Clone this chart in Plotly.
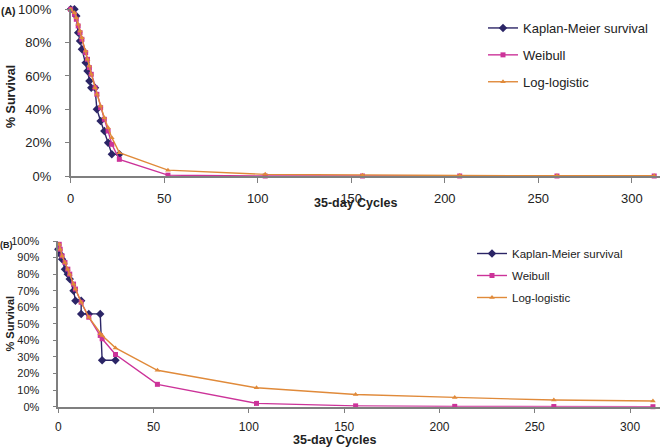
import plotly.graph_objects as go

W, H = 661, 448
FONT = "Liberation Sans, Arial, sans-serif"

# ---------------- Panel A data ----------------
a_km_t = [0, 2, 3, 4, 5, 6, 8, 9, 10, 11, 13, 14, 16, 18, 20, 22, 26]
a_km_s = [100, 100, 96, 86, 81, 76, 68, 63, 57, 53, 53, 40, 33, 27, 20, 13, 13]

a_fit_t = [0, 2, 3, 4, 5, 6, 8, 9, 10, 11, 13, 14, 16, 18, 20, 22, 26, 52, 104, 156, 208, 260, 312]
a_wb_s = [100, 97, 94, 90, 86, 82, 74, 70, 65, 61, 53, 49, 41, 34, 27, 19, 10, 0.5, 0, 0, 0, 0, 0]
a_ll_s = [100, 98, 95, 91, 87, 83, 75, 70, 66, 61, 53, 49, 42, 35, 29, 23, 14, 3.5, 1, 0.5, 0.3, 0.2, 0.2]

# ---------------- Panel B data ----------------
b_km_t = [0, 1, 2, 3.5, 5, 6, 8, 9, 12, 12, 16, 22, 23, 30]
b_km_s = [95, 92, 89, 83, 80, 77, 70, 64, 64, 56, 56, 56, 28, 28]

b_fit_t = [0.5, 1, 2, 3.5, 5, 6, 8, 9, 12, 16, 22, 23, 30, 52, 104, 156, 208, 260, 312]
b_wb_s = [98, 95, 91, 87, 83, 80, 74, 71, 63, 54, 43, 41, 31.5, 13.5, 2, 0.5, 0.2, 0.1, 0]
b_ll_s = [98, 95, 91, 87, 83, 80, 74, 71, 63, 54, 44, 43, 35.5, 22, 11.4, 7.4, 5.6, 4.0, 3.4]

x_ticks = [0, 50, 100, 150, 200, 250, 300]
a_y_ticks = [0, 20, 40, 60, 80, 100]
a_y_labels = ["0%", "20%", "40%", "60%", "80%", "100%"]
b_y_ticks = [0, 10, 20, 30, 40, 50, 60, 70, 80, 90, 100]
b_y_labels = ["0%", "10%", "20%", "30%", "40%", "50%", "60%", "70%", "80%", "90%", "100%"]

names = ["Kaplan-Meier survival", "Weibull", "Log-logistic"]
C_KM, C_WB, C_LL = "#2B2566", "#CC3399", "#E08A3A"

def px(x):
    return x / W

def py(y):
    return 1 - y / H

fig = go.Figure()

def add_panel(xa, ya, leg, km_t, km_s, fit_t, wb_s, ll_s):
    fig.add_trace(go.Scatter(x=km_t, y=km_s, name=names[0], mode="lines+markers",
                             line=dict(color=C_KM, width=1.4),
                             marker=dict(symbol="diamond", size=6.5, color=C_KM),
                             xaxis=xa, yaxis=ya, legend=leg, legendgroup=leg + "a", cliponaxis=False))
    fig.add_trace(go.Scatter(x=fit_t, y=wb_s, name=names[1], mode="lines+markers",
                             line=dict(color=C_WB, width=1.4),
                             marker=dict(symbol="square", size=5, color=C_WB),
                             xaxis=xa, yaxis=ya, legend=leg, legendgroup=leg + "b", cliponaxis=False))
    fig.add_trace(go.Scatter(x=fit_t, y=ll_s, name=names[2], mode="lines+markers",
                             line=dict(color=C_LL, width=1.4),
                             marker=dict(symbol="triangle-up", size=5, color=C_LL),
                             xaxis=xa, yaxis=ya, legend=leg, legendgroup=leg + "c", cliponaxis=False))

add_panel("x", "y", "legend", a_km_t, a_km_s, a_fit_t, a_wb_s, a_ll_s)
add_panel("x2", "y2", "legend2", b_km_t, b_km_s, b_fit_t, b_wb_s, b_ll_s)

axis_common = dict(showgrid=False, zeroline=False, showline=True, linecolor="#7F7F7F",
                   linewidth=1.5, ticks="outside", tickcolor="#7F7F7F", tickwidth=1.2,
                   fixedrange=True)

fig.update_layout(
    width=W, height=H, margin=dict(l=0, r=0, t=0, b=0, autoexpand=False),
    paper_bgcolor="white", plot_bgcolor="white",
    font=dict(family=FONT, color="#222222"),
    xaxis=dict(axis_common, domain=[px(70.7), px(660)], range=[0, 315.1], anchor="y",
               tickmode="array", tickvals=x_ticks, ticklen=5, ticklabelstandoff=5,
               tickfont=dict(size=13)),
    yaxis=dict(axis_common, domain=[py(176), py(9.3)], range=[0, 100], anchor="x",
               tickmode="array", tickvals=a_y_ticks, ticktext=a_y_labels, ticklen=4,
               ticklabelstandoff=11, tickfont=dict(size=13)),
    xaxis2=dict(axis_common, domain=[px(58.3), px(660)], range=[0, 315.7], anchor="y2",
                tickmode="array", tickvals=x_ticks, ticklen=5, ticklabelstandoff=3,
                tickfont=dict(size=12)),
    yaxis2=dict(axis_common, domain=[py(406.7), py(241)], range=[0, 100], anchor="x2",
                tickmode="array", tickvals=b_y_ticks, ticktext=b_y_labels, ticklen=4,
                ticklabelstandoff=11, tickfont=dict(size=11)),
    legend=dict(x=px(483), y=py(13), xanchor="left", yanchor="top",
                font=dict(size=13, family=FONT), tracegroupgap=7, itemwidth=30,
                bgcolor="rgba(0,0,0,0)"),
    legend2=dict(x=px(472), y=py(239), xanchor="left", yanchor="top",
                 font=dict(size=11.5, family=FONT), tracegroupgap=3, itemwidth=30,
                 bgcolor="rgba(0,0,0,0)"),
    showlegend=True,
)

ann = [
    dict(text="<b>(A)</b>", x=px(8), y=py(11), size=10.5, angle=0),
    dict(text="<b>(B)</b>", x=px(6), y=py(245), size=9, angle=0),
    dict(text="<b>% Survival</b>", x=px(11), y=py(97), size=12.5, angle=-90),
    dict(text="<b>% Survival</b>", x=px(9.5), y=py(324), size=11, angle=-90),
    dict(text="<b>35-day Cycles</b>", x=px(355), y=py(203), size=12.5, angle=0),
    dict(text="<b>35-day Cycles</b>", x=px(335), y=py(440), size=12.5, angle=0),
]
for a in ann:
    fig.add_annotation(text=a["text"], x=a["x"], y=a["y"], xref="paper", yref="paper",
                       xanchor="center", yanchor="middle", showarrow=False, borderpad=0,
                       textangle=a["angle"], font=dict(size=a["size"], family=FONT, color="#222222"))

fig.write_html("out.html", config={"displayModeBar": False},
               post_script="document.body.style.margin='0';document.body.style.overflow='hidden';")
